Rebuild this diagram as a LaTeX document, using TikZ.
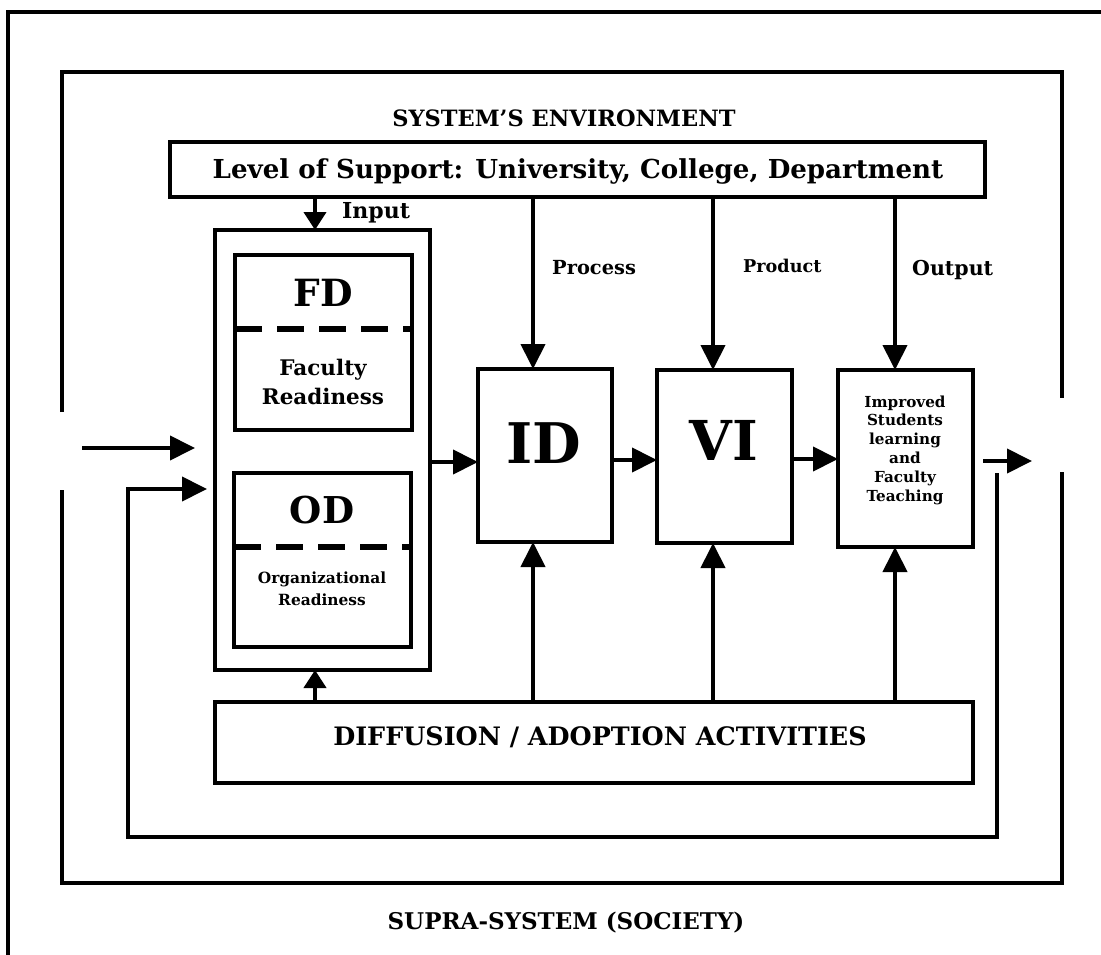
\documentclass[tikz,border=0pt]{standalone}
\usepackage{fontspec}
\setmainfont{DejaVu Serif}
\usetikzlibrary{arrows.meta}
\tikzset{
  box/.style={draw, line width=4.5pt, rectangle, inner sep=0pt, outer sep=0pt},
  frame/.style={line width=4.5pt},
  conn/.style={line width=4pt, -{Triangle[length=25pt,width=24pt]}},
  smallconn/.style={line width=4pt, -{Triangle[length=18pt,width=22pt]}},
  sep/.style={line width=5.5pt, dash pattern=on 27pt off 15pt},
  txt/.style={inner sep=0pt, font=\bfseries},
}
\begin{document}
\begin{tikzpicture}[x=1pt,y=-1pt]
\useasboundingbox (0,0) rectangle (1101,955);
\fill[white] (0,0) rectangle (1101,955);

% outer frame (supra-system)
\draw[frame] (8,965) -- (8,12) -- (1110,12);
% system frame with gaps
\draw[frame] (62,412) -- (62,72) -- (1062,72) -- (1062,398);
\draw[frame] (1062,472) -- (1062,883) -- (62,883) -- (62,490);

\node[txt, font=\bfseries\fontsize{22.5}{26}\selectfont] (sys) at (564,118.5) {SYSTEM'S ENVIRONMENT};
\node[txt, font=\bfseries\fontsize{23}{26}\selectfont] (supra) at (566,923) {SUPRA-SYSTEM (SOCIETY)};

% boxes
\node[box, minimum width=815pt, minimum height=55pt] (level) at (577.5,169.5) {};
\node[txt, font=\bfseries\fontsize{26.1}{30}\selectfont] (leveltxt) at (578,171) {Level of Support: University, College, Department};

\node[box, minimum width=215pt, minimum height=440pt] (inbox) at (322.5,450) {};
\node[box, minimum width=177pt, minimum height=175pt] (fd) at (323.5,342.5) {};
\node[box, minimum width=177pt, minimum height=174pt] (od) at (322.5,560) {};

\node[box, minimum width=134pt, minimum height=173pt] (id) at (545,455.5) {};
\node[box, minimum width=135pt, minimum height=173pt] (vi) at (724.5,456.5) {};
\node[box, minimum width=135pt, minimum height=177pt] (imp) at (905.5,458.5) {};
\node[box, minimum width=758pt, minimum height=81pt] (diff) at (594,742.5) {};

% texts in boxes
\node[txt, font=\bfseries\fontsize{37.5}{40}\selectfont] (fdt) at (323,293) {FD};
\draw[sep] (fd.west |- 0,329) -- (fd.east |- 0,329);
\node[txt, font=\bfseries\fontsize{21.5}{29.5}\selectfont, align=center] (fdr) at (323,382) {Faculty\\Readiness};

\node[txt, font=\bfseries\fontsize{37}{40}\selectfont] (odt) at (322,510) {OD};
\draw[sep] (od.west |- 0,547) -- (od.east |- 0,547);
\node[txt, font=\bfseries\fontsize{15.4}{22}\selectfont, align=center] (odr) at (322,589) {Organizational\\Readiness};

\node[txt, font=\bfseries\fontsize{56}{60}\selectfont] (idt) at (544,443) {ID};
\node[txt, font=\bfseries\fontsize{55}{60}\selectfont] (vit) at (724,440) {VI};
\node[txt, font=\bfseries\fontsize{15.2}{18.8}\selectfont, align=center] (impt) at (905,450) {Improved\\Students\\learning\\and\\Faculty\\Teaching};

\node[txt, font=\bfseries\fontsize{25.4}{30}\selectfont] (difft) at (600,737) {DIFFUSION / ADOPTION ACTIVITIES};

% labels
\node[txt, anchor=west, font=\bfseries\fontsize{22}{24}\selectfont] (lin) at (342,213) {Input};
\node[txt, anchor=west, font=\bfseries\fontsize{19.4}{22}\selectfont] (lpr) at (552,268) {Process};
\node[txt, anchor=west, font=\bfseries\fontsize{17.6}{22}\selectfont] (lpd) at (743,266) {Product};
\node[txt, anchor=west, font=\bfseries\fontsize{20.5}{22}\selectfont] (lou) at (912,270) {Output};

% top-down connectors
\draw[smallconn] (level.south -| 315,0) -- (inbox.north -| 315,0);
\draw[conn] (level.south -| 533,0) -- (id.north -| 533,0);
\draw[conn] (level.south -| 713,0) -- (vi.north -| 713,0);
\draw[conn] (level.south -| 895,0) -- (imp.north -| 895,0);

% bottom-up connectors
\draw[smallconn] (diff.north -| 315,0) -- (inbox.south -| 315,0);
\draw[conn] (diff.north -| 533,0) -- (id.south -| 533,0);
\draw[conn] (diff.north -| 713,0) -- (vi.south -| 713,0);
\draw[conn] (diff.north -| 895,0) -- (imp.south -| 895,0);

% horizontal flow
\draw[conn] (inbox.east |- 0,462) -- (id.west |- 0,462);
\draw[conn] (id.east |- 0,460) -- (vi.west |- 0,460);
\draw[conn] (vi.east |- 0,459) -- (imp.west |- 0,459);
\coordinate (outs) at (983,461);
\coordinate (oute) at (1032,461);
\draw[conn] (outs) -- (oute);

% inputs on the left
\coordinate (ins) at (82,448);
\draw[conn, shorten >=20pt] (ins) -- (inbox.west |- ins);
\coordinate (fbs) at (997,473);
\draw[conn, shorten >=8pt] (fbs) -- (997,837) -- (128,837) -- (128,489) -- (inbox.west |- 0,489);
\end{tikzpicture}
\end{document}
